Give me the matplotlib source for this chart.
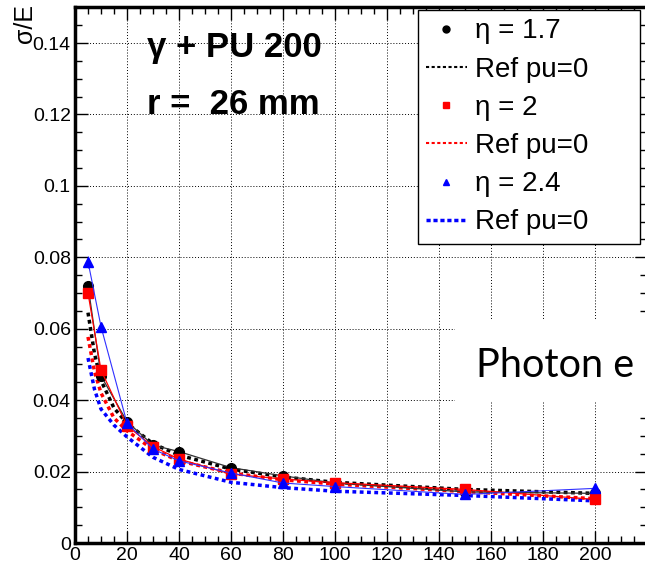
import numpy as np
import matplotlib
matplotlib.use('Agg')
import matplotlib.pyplot as plt
from matplotlib.lines import Line2D
from matplotlib.patches import Rectangle
from matplotlib.ticker import MultipleLocator

plt.rcParams['font.family'] = ['Liberation Sans', 'DejaVu Sans']

'''
#   values read off the picture
'''
energy = [5, 10, 20, 30, 40, 60, 80, 100, 150, 200]

res_eta17 = [0.0721, 0.0468, 0.0340, 0.0274, 0.0256, 0.0211, 0.0188, 0.0168, 0.0143, 0.0139]
err_eta17 = [0.0010, 0.0006, 0.0004, 0.0004, 0.0003, 0.0003, 0.0003, 0.0002, 0.0002, 0.0002]
res_eta20 = [0.0700, 0.0484, 0.0328, 0.0270, 0.0235, 0.0193, 0.0179, 0.0169, 0.0150, 0.0122]
err_eta20 = [0.0010, 0.0006, 0.0004, 0.0004, 0.0003, 0.0003, 0.0003, 0.0002, 0.0002, 0.0002]
res_eta24 = [0.0788, 0.0606, 0.0336, 0.0263, 0.0230, 0.0196, 0.0168, 0.0158, 0.0136, 0.0153]
err_eta24 = [0.0017, 0.0007, 0.0004, 0.0004, 0.0003, 0.0003, 0.0003, 0.0002, 0.0002, 0.0002]

# reference (pu=0) curves
energy_ref = [5, 7.5, 10, 15, 20, 30, 40, 60, 80, 100, 150, 200]
ref_eta17 = [0.0645, 0.0530, 0.0455, 0.0378, 0.0335, 0.0278, 0.0246, 0.0207, 0.0185, 0.0170, 0.0150, 0.0139]
ref_eta20 = [0.0577, 0.0480, 0.0420, 0.0350, 0.0314, 0.0262, 0.0230, 0.0196, 0.0177, 0.0165, 0.0144, 0.0124]
ref_eta24 = [0.0518, 0.0430, 0.0375, 0.0330, 0.0297, 0.0240, 0.0206, 0.0170, 0.0155, 0.0145, 0.0133, 0.0118]

xticks = [0, 20, 40, 60, 80, 100, 120, 140, 160, 180, 200, 220]
xtick_labels = ['0', '20', '40', '60', '80', '100', '120', '140', '160', '180', '200', '']
yticks = [0, 0.02, 0.04, 0.06, 0.08, 0.10, 0.12, 0.14]
ytick_labels = ['0', '0.02', '0.04', '0.06', '0.08', '0.1', '0.12', '0.14']

W, H = 645, 563

fig = plt.figure(figsize=(W/100, H/100), dpi=100)
ax = fig.add_axes([75/W, 20/H, 572/W, 535.7/H])

ax.set_xlim(0, 220)
ax.set_ylim(0, 0.15)
ax.set_xticks(xticks, xtick_labels)
ax.set_yticks(yticks, ytick_labels)
ax.xaxis.set_minor_locator(MultipleLocator(5))
ax.yaxis.set_minor_locator(MultipleLocator(0.005))
ax.tick_params(which='both', direction='in', top=True, right=True, labelsize=14, pad=3)
ax.tick_params(which='major', length=9, width=1)
ax.tick_params(which='minor', length=5, width=1)
ax.grid(True, which='major', color='black', linestyle=(0, (1, 2)), linewidth=0.7)
for side in ['left', 'bottom', 'top']:
    ax.spines[side].set_linewidth(2.5)

# reference curves
dots = (0, (1.1, 1.0))
ax.plot(energy_ref, ref_eta17, color='black', linestyle=dots, linewidth=2.5)
ax.plot(energy_ref, ref_eta20, color='red', linestyle=dots, linewidth=2.5)
ax.plot(energy_ref, ref_eta24, color='blue', linestyle=dots, linewidth=2.5)

# PU 200 points
ax.errorbar(energy, res_eta17, yerr=err_eta17, fmt='-o', color='#333333', mfc='black', mec='black',
            ms=7, lw=0.9, capsize=0, elinewidth=0.9)
ax.errorbar(energy, res_eta20, yerr=err_eta20, fmt='-s', color='red', ms=7, lw=0.9,
            capsize=0, elinewidth=0.9)
ax.errorbar(energy, res_eta24, yerr=err_eta24, fmt='-^', color='#3030ff', mfc='blue', mec='blue',
            ms=7, lw=0.8, capsize=0, elinewidth=0.8)

# y title, ROOT style
fig.text(25/W, 1 - 4/H, 'σ/E', rotation=90, ha='center', va='top', fontsize=18)

fig.text(147/W, 1 - 48/H, 'γ + PU 200', ha='left', va='center', fontsize=25, fontweight='bold')
fig.text(147/W, 1 - 105/H, 'r =  26 mm', ha='left', va='center', fontsize=25, fontweight='bold')

handles = [
    Line2D([], [], linestyle='none', marker='o', color='black', ms=5),
    Line2D([], [], color='black', linestyle=(0, (1.5, 1.2)), lw=1.5),
    Line2D([], [], linestyle='none', marker='s', color='red', ms=5),
    Line2D([], [], color='red', linestyle=(0, (1.5, 1.2)), lw=1.5),
    Line2D([], [], linestyle='none', marker='^', color='blue', ms=5),
    Line2D([], [], color='blue', linestyle=(0, (1.2, 0.8)), lw=2.5),
]
labels = ['η = 1.7', 'Ref pu=0', 'η = 2', 'Ref pu=0', 'η = 2.4', 'Ref pu=0']
leg = ax.legend(handles, labels, loc='upper left',
                bbox_to_anchor=(418/W, 1 - 245/H, 222/W, 235/H), bbox_transform=fig.transFigure,
                mode='expand', borderaxespad=0, fontsize=20, frameon=True, fancybox=False,
                edgecolor='black', framealpha=1, borderpad=0.3, labelspacing=0.44,
                handlelength=1.45, handletextpad=0.3)
leg.get_frame().set_linewidth(1.0)

# slide overlay
fig.patches.append(Rectangle((455/W, 1 - 402/H), 200/W, 82/H, transform=fig.transFigure,
                             facecolor='white', edgecolor='none', zorder=5))
fig.text(476/W, 1 - 377/H, 'Photon e', ha='left', va='baseline', fontsize=28.5,
         family=['Lato', 'DejaVu Sans'], zorder=6)

plt.savefig('out.png', dpi=100)
